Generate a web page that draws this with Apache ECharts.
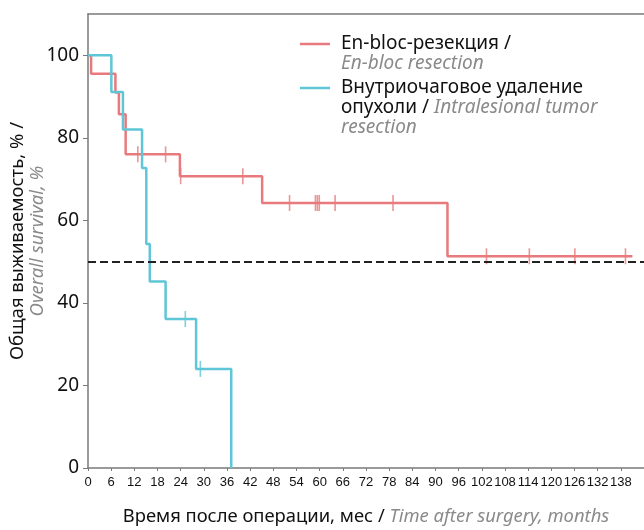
<!DOCTYPE html>
<html><head><meta charset="utf-8">
<script src="https://cdn.jsdelivr.net/npm/echarts@6/dist/echarts.min.js"></script>
<style>html,body{margin:0;padding:0;background:#fff}#c{width:644px;height:530px}</style>
</head><body><div id="c"></div>
<script>
// Kaplan–Meier steps: [month, survival %]
const enblocSteps = [[0,100],[0.8,95.5],[7.1,91],[8.0,85.7],[9.75,76],[23.8,70.7],[45.1,64.2],[93.1,51.3],[141,51.3]];
const enblocCensored = [[12.9,76],[20.1,76],[24,70.7],[40.1,70.7],[52.2,64.2],[58.9,64.2],[59.4,64.2],[59.9,64.2],[64.0,64.2],[79.0,64.2],[103.2,51.3],[114.3,51.3],[126.1,51.3],[139.2,51.3]];
const intraSteps = [[0,100],[6.05,91.1],[9.05,82],[14,72.7],[15.1,54.3],[16,45.2],[20.1,36.1],[28,24],[37.1,0]];
const intraCensored = [[25.2,36.1],[29.1,24]];
const medianLine = 50;
const xTicks = [0,6,12,18,24,30,36,42,48,54,60,66,72,78,84,90,96,102,108,114,120,126,132,138];
const yTicks = [0,20,40,60,80,100];

const RED = '#e8797c', CYAN = '#5ec6d6', AX = '#7a7a7a';
const sansFont = "'Noto Sans', 'Open Sans', sans-serif";
const narrowFont = "'Liberation Sans', Arial, sans-serif";

const chart = echarts.init(document.getElementById('c'));
chart.setOption({
  animation: false,
  grid: {left: 88, top: 14, right: 0, bottom: 62, containLabel: false, outerBoundsMode: 'none'},
  xAxis: [{
    type: 'value', min: 0, max: 144, interval: 6,
    axisLine: {lineStyle: {color: AX, width: 1.5}},
    axisTick: {show: true, length: 3, lineStyle: {color: AX}},
    splitLine: {show: false},
    axisLabel: {color: '#111', fontSize: 13, fontFamily: narrowFont, margin: 8, showMaxLabel: false,
      formatter: v => xTicks.includes(v) ? String(v) : ''},
    name: '{a|Время после операции, мес / }{b|Time after surgery, months}',
    nameLocation: 'middle', nameGap: 40, nameMoveOverlap: false,
    nameTextStyle: {rich: {
      a: {fontSize: 18.4, color: '#111', fontFamily: sansFont},
      b: {fontSize: 18.4, color: '#8a8a8a', fontStyle: 'italic', fontFamily: sansFont}
    }}
  },{
    type: 'value', position: 'top', min: 0, max: 144,
    axisLine: {show: true, lineStyle: {color: AX, width: 1.5}},
    axisTick: {show: false}, axisLabel: {show: false}, splitLine: {show: false}
  }],
  yAxis: {
    type: 'value', min: 0, max: 110, interval: 20,
    axisLine: {show: true, lineStyle: {color: AX, width: 1.5}},
    axisTick: {show: true, length: 5, lineStyle: {color: AX}},
    splitLine: {show: false},
    axisLabel: {color: '#111', fontSize: 19, fontFamily: sansFont, margin: 9, showMaxLabel: false,
      formatter: v => yTicks.includes(v) ? String(v) : ''},
    name: '{a|Общая выживаемость, % /}\n{b|Overall survival, %}',
    nameLocation: 'middle', nameGap: 40, nameRotate: 90, nameMoveOverlap: false,
    nameTextStyle: {lineHeight: 20, rich: {
      a: {fontSize: 18.5, color: '#111', fontFamily: sansFont, lineHeight: 20},
      b: {fontSize: 18.5, color: '#8a8a8a', fontStyle: 'italic', fontFamily: sansFont, lineHeight: 20}
    }}
  },
  series: [
    {name: 'En-bloc', type: 'line', step: 'end', data: enblocSteps, showSymbol: false,
     lineStyle: {color: RED, width: 2.5}, z: 3,
     markLine: {silent: true, symbol: 'none', label: {show: false},
       lineStyle: {color: '#222', type: [8, 4], width: 2},
       data: [{yAxis: medianLine}]}},
    {name: 'En-bloc censored', type: 'scatter', data: enblocCensored, symbol: 'rect', symbolSize: [1.6, 16],
     itemStyle: {color: RED}, z: 4},
    {name: 'Intralesional', type: 'line', step: 'end', data: intraSteps, showSymbol: false,
     lineStyle: {color: CYAN, width: 2.5}, z: 3},
    {name: 'Intralesional censored', type: 'scatter', data: intraCensored, symbol: 'rect', symbolSize: [1.6, 16],
     itemStyle: {color: CYAN}, z: 4}
  ],
  graphic: [
    {type: 'line', shape: {x1: 300, y1: 44, x2: 330, y2: 44}, style: {stroke: RED, lineWidth: 2.5}},
    {type: 'text', x: 341, y: 44, style: {text: 'En-bloc-резекция /', fontSize: 19, fill: '#111', fontFamily: sansFont, verticalAlign: 'middle'}},
    {type: 'text', x: 341, y: 64, style: {text: 'En-bloc resection', fontSize: 19, fill: '#8a8a8a', fontStyle: 'italic', fontFamily: sansFont, verticalAlign: 'middle'}},
    {type: 'line', shape: {x1: 300, y1: 88, x2: 330, y2: 88}, style: {stroke: CYAN, lineWidth: 2.5}},
    {type: 'text', x: 341, y: 88, style: {text: 'Внутриочаговое удаление', fontSize: 19, fill: '#111', fontFamily: sansFont, verticalAlign: 'middle'}},
    {type: 'text', x: 341, y: 108, style: {verticalAlign: 'middle', rich: {
        a: {fontSize: 19, fill: '#111', fontFamily: sansFont},
        b: {fontSize: 19, fill: '#8a8a8a', fontStyle: 'italic', fontFamily: sansFont}},
      text: '{a|опухоли / }{b|Intralesional tumor}'}},
    {type: 'text', x: 341, y: 128, style: {text: 'resection', fontSize: 19, fill: '#8a8a8a', fontStyle: 'italic', fontFamily: sansFont, verticalAlign: 'middle'}}
  ]
});
</script></body></html>
